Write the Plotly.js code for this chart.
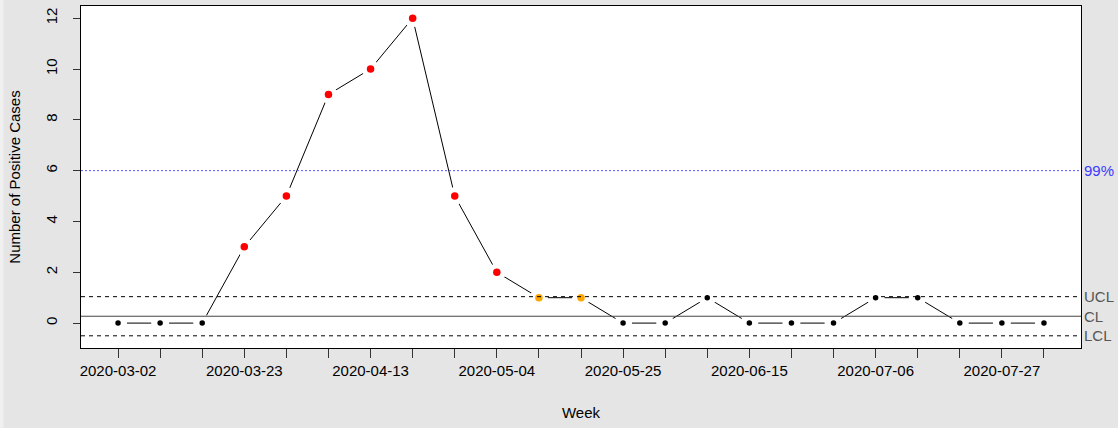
<!DOCTYPE html>
<html>
<head>
<meta charset="utf-8">
<script src="https://cdn.plot.ly/plotly-3.0.1.min.js"></script>
<style>
html,body{margin:0;padding:0;background:#e5e5e5;}
#chart{width:1118px;height:428px;}
</style>
</head>
<body>
<div id="chart"></div>
<script>
// ---- data ----
const weeks = ['2020-03-02','2020-03-09','2020-03-16','2020-03-23','2020-03-30','2020-04-06',
  '2020-04-13','2020-04-20','2020-04-27','2020-05-04','2020-05-11','2020-05-18','2020-05-25',
  '2020-06-01','2020-06-08','2020-06-15','2020-06-22','2020-06-29','2020-07-06','2020-07-13',
  '2020-07-20','2020-07-27','2020-08-03'];
const cases = [0,0,0,3,5,9,10,12,5,2,1,1,0,0,1,0,0,0,1,1,0,0,0];
const status = ['in','in','in','out','out','out','out','out','out','out','warn','warn','in',
  'in','in','in','in','in','in','in','in','in','in'];
const tickLabels = ['2020-03-02','2020-03-23','2020-04-13','2020-05-04','2020-05-25',
  '2020-06-15','2020-07-06','2020-07-27'];
const yTicks = [0,2,4,6,8,10,12];
const UCL = 1.04, CL = 0.27, LCL = -0.50, LIMIT99 = 6;

// ---- styles ----
const statusColor = {in:'#000000', out:'#ff0000', warn:'#ffa500'};
const statusSize = {in:5.5, out:7.5, warn:7.5};
const FONT = 'Liberation Sans, Arial, sans-serif';

const t0 = new Date(weeks[0]).getTime();
const t1 = new Date(weeks[weeks.length-1]).getTime();
const pad = (t1 - t0) * 0.04;
const fmt = ms => new Date(ms).toISOString().slice(0,19).replace('T',' ');

const traces = [
  { // connecting line with gaps around points (R type "b")
    x: weeks, y: cases, type:'scatter', mode:'lines+markers',
    line:{color:'#000', width:1},
    marker:{color:'#ffffff', size:18, opacity:1, line:{width:0}},
    hoverinfo:'skip', showlegend:false
  },
  {
    x: weeks, y: cases, type:'scatter', mode:'markers',
    marker:{color: status.map(s=>statusColor[s]), size: status.map(s=>statusSize[s]),
            opacity:1, line:{width:0}},
    showlegend:false
  }
];

const hline = (y, dash, color) => ({type:'line', xref:'paper', x0:0, x1:1, yref:'y', y0:y, y1:y,
  line:{color:color, width:1, dash:dash}, layer:'above'});

const rightLabel = (y, text, color) => ({xref:'paper', x:1, xanchor:'left', xshift:1, yref:'y', y:y,
  yanchor:'middle', text:text, showarrow:false, font:{family:FONT, size:15, color:color}});

const layout = {
  width:1118, height:428,
  paper_bgcolor:'#e5e5e5', plot_bgcolor:'#ffffff',
  margin:{l:81, r:37, t:6, b:80},
  font:{family:FONT, size:15, color:'#000'},
  showlegend:false,
  xaxis:{
    type:'date', range:[fmt(t0 - pad), fmt(t1 + pad)],
    tickmode:'array', tickvals: weeks,
    ticktext: weeks.map(w => tickLabels.includes(w) ? w : ''),
    ticks:'outside', ticklen:9, tickcolor:'#333', tickwidth:1,
    showgrid:false, zeroline:false,
    showline:true, mirror:true, linecolor:'#000', linewidth:1,
    tickfont:{family:FONT, size:15, color:'#000'},
    title:{text:'Week', font:{family:FONT, size:15, color:'#000'}, standoff:29}
  },
  yaxis:{
    range:[-0.98, 12.48],
    tickmode:'array', tickvals:yTicks, ticktext:yTicks.map(String),
    tickangle:-90, ticklabelstandoff:10,
    ticks:'outside', ticklen:7, tickcolor:'#333', tickwidth:1,
    showgrid:false, zeroline:false,
    showline:true, mirror:true, linecolor:'#000', linewidth:1,
    tickfont:{family:FONT, size:15, color:'#000'},
    title:{text:'Number of Positive Cases', font:{family:FONT, size:15, color:'#000'}, standoff:18}
  },
  shapes:[
    {type:'rect', xref:'paper', yref:'paper', x0:-0.081, x1:-0.0775, y0:-0.25, y1:1.05,
     line:{width:0}, fillcolor:'#f0f0f0', layer:'below'},
    hline(LIMIT99, '2px,2px', '#5555ff'),
    hline(UCL, '4px,4px', '#000'),
    hline(CL, 'solid', '#444'),
    hline(LCL, '4px,4px', '#000')
  ],
  annotations:[
    rightLabel(LIMIT99, '99%', '#3a3aff'),
    rightLabel(UCL, 'UCL', '#555'),
    rightLabel(CL, 'CL', '#555'),
    rightLabel(LCL, 'LCL', '#555')
  ]
};

Plotly.newPlot('chart', traces, layout, {staticPlot:true, displayModeBar:false});
</script>
</body>
</html>
